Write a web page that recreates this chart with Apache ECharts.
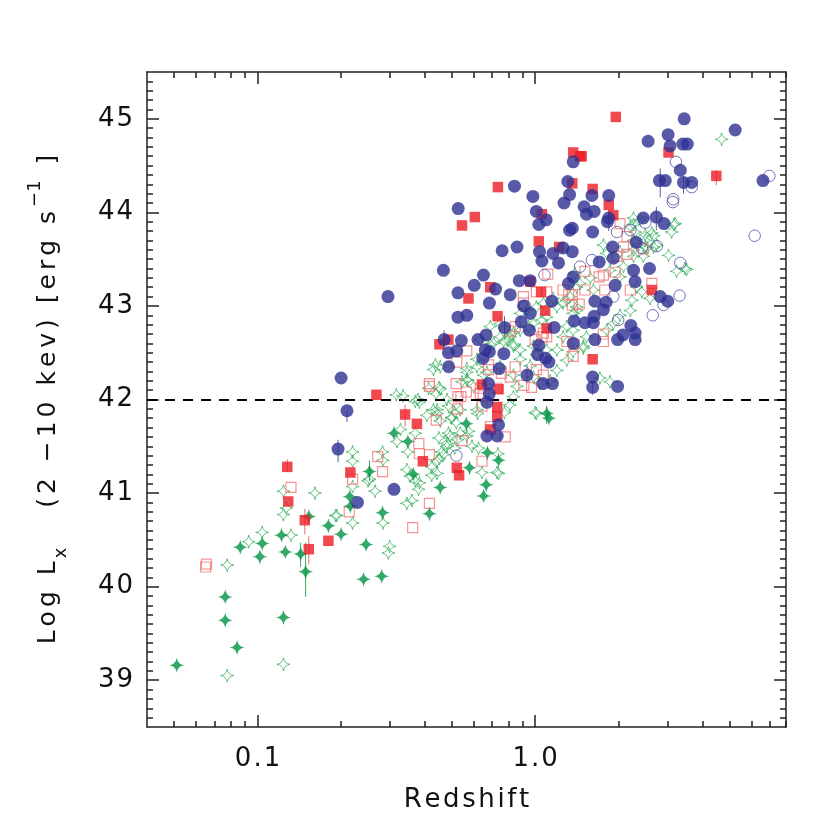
<!DOCTYPE html>
<html>
<head>
<meta charset="utf-8">
<script src="https://cdn.jsdelivr.net/npm/echarts@6/dist/echarts.min.js"></script>
<style>
  html, body { margin: 0; background: #fff; }
  #chart { width: 830px; height: 830px; }
</style>
</head>
<body>
<div id="chart"></div>
<script>
// axis ranges and ticks
const xRange = [0.04, 8];
const yRange = [38.5, 45.5];
const xMajorTicks = [0.1, 1];
const xMinorTicks = [0.05, 0.06, 0.07, 0.08, 0.09, 0.2, 0.3, 0.4, 0.5, 0.6, 0.7, 0.8, 0.9, 2, 3, 4, 5, 6, 7, 8];
const yMajorTicks = [39, 40, 41, 42, 43, 44, 45];
const lxCut = 42;

// [redshift, log Lx]
const navyFilled = [
  [5.25,44.88],[3.44,45.0],[2.55,44.76],[3.01,44.83],[3.06,44.71],[3.40,44.73],[3.53,44.73],[3.33,44.45],
  [2.80,44.34],[2.94,44.34],[3.42,44.32],[3.66,44.32],[6.61,44.34],[1.60,44.18],[1.84,44.18],[1.50,44.06],
  [1.53,43.98],[1.63,44.01],[1.84,43.94],[1.82,43.90],[1.61,43.79],[2.45,43.94],[2.73,43.95],[2.91,43.88],
  [1.90,43.63],[2.31,43.68],[1.37,44.54],[0.842,44.28],[1.31,44.33],[0.981,44.17],[1.33,44.19],[1.27,44.10],
  [0.528,44.04],[1.01,44.01],[1.095,43.92],[1.03,43.87],[1.33,43.81],[1.36,43.83],[0.86,43.63],[0.76,43.59],
  [1.036,43.58],[1.26,43.62],[1.36,43.58],[0.467,43.38],[0.651,43.33],[0.603,43.22],[0.527,43.14],[0.72,43.18],
  [0.813,43.12],[0.684,43.03],[0.527,42.88],[0.567,42.90],[0.775,42.77],[0.47,42.64],[0.542,42.63],[0.487,42.50],
  [0.522,42.52],[0.488,42.35],[0.622,42.64],[0.666,42.69],[0.661,42.53],[0.684,42.51],[0.648,42.44],[0.742,42.33],
  [0.771,42.49],[0.679,42.17],[0.683,42.06],[0.934,42.26],[1.03,42.58],[1.02,42.48],[1.09,42.44],[1.12,42.40],
  [1.066,42.17],[1.154,42.17],[0.908,43.0],[0.959,42.92],[0.89,42.83],[0.953,42.74],[1.148,43.05],[1.17,42.77],
  [1.057,43.48],[1.158,43.56],[1.213,43.46],[1.37,43.31],[0.876,43.27],[0.959,43.27],[1.317,43.24],[1.91,43.51],
  [1.70,43.47],[1.94,43.22],[2.26,43.38],[2.29,43.26],[2.58,43.40],[1.64,43.05],[1.80,43.04],[1.76,42.96],
  [1.63,42.89],[1.62,42.82],[1.38,42.84],[1.51,42.82],[1.64,42.64],[1.98,42.64],[2.07,42.69],[2.21,42.79],
  [2.29,42.71],[2.29,42.64],[2.82,43.10],[3.0,43.05],[1.61,42.24],[1.61,42.13],[1.98,42.14],[1.37,42.60],
  [0.2,42.23],[0.21,41.88],[0.195,41.47],[0.31,41.04],[0.229,40.90],[0.295,43.10],[0.67,41.97],[0.738,41.73],
  [0.67,41.61],[0.73,41.61]
];
const navyOpen = [
  [3.21,44.54],[3.14,44.14],[3.13,44.11],[6.97,44.39],[3.66,44.27],[6.17,43.75],[1.97,43.79],[3.33,43.46],
  [3.31,43.11],[2.65,42.90],[2.90,43.01],[2.2,43.81],[2.49,43.89],[2.74,43.64],[1.45,43.42],[1.60,43.49],
  [1.99,42.85],[1.91,43.10],[0.92,43.0],[1.08,43.33],[2.42,43.62],[0.52,41.40]
];
const redFilled = [
  [1.95,45.02],[1.47,44.60],[3.02,44.64],[4.49,44.39],[1.61,44.25],[1.84,44.08],[1.91,43.97],[1.37,44.64],
  [1.45,44.60],[0.734,44.27],[1.36,44.31],[0.606,43.95],[0.545,43.86],[1.057,43.98],[1.03,43.69],[1.22,43.63],
  [0.689,43.20],[0.575,43.08],[0.732,42.89],[0.452,42.59],[0.487,42.64],[0.643,42.16],[0.738,42.11],[1.086,42.95],
  [1.10,42.76],[0.959,43.26],[1.05,43.15],[2.63,43.17],[1.61,42.43],[0.73,41.92],[0.73,41.82],[0.69,41.68],
  [0.522,41.27],[0.532,41.19],[0.268,42.05],[0.34,41.84],[0.375,41.74],[0.394,41.34],[0.216,41.22],[0.128,41.28],
  [0.129,40.91],[0.148,40.71],[0.153,40.40],[0.18,40.49]
];
const redOpen = [
  [0.065,40.21],[0.0655,40.24],[0.132,41.06],[0.271,41.39],[0.282,41.23],[0.381,41.53],[0.383,41.42],[0.416,41.41],
  [0.214,40.80],[0.362,40.63],[0.416,40.89],[0.44,41.78],[0.416,42.14],[0.416,42.17],[0.22,41.15],[0.519,42.17],
  [0.527,42.03],[0.525,41.90],[0.565,42.08],[0.65,42.04],[0.643,41.93],[0.689,41.71],[0.78,41.60],[0.545,41.56],
  [0.643,41.34],[0.91,42.15],[0.97,42.13],[0.567,42.52],[0.522,42.40],[0.679,42.37],[0.679,42.32],[0.847,42.35],
  [0.813,42.24],[0.907,43.10],[0.907,43.03],[1.01,43.15],[1.10,43.15],[1.11,43.34],[1.26,43.17],[1.32,43.12],
  [1.37,42.46],[1.30,42.62],[1.01,42.32],[1.07,42.26],[1.0,42.64],[1.057,42.67],[1.07,42.71],[1.10,42.67],
  [0.813,42.73],[0.847,42.78],[0.755,42.28],[0.728,42.12],[0.634,42.12],[0.634,42.06],[0.54,42.03],[1.51,43.37],
  [1.70,43.31],[1.51,43.17],[1.78,43.17],[2.2,43.17],[1.36,43.12],[1.44,43.02],[1.36,43.01],[2.63,43.24],
  [1.76,42.70],[1.76,42.62],[1.38,42.59],[2.14,43.55],[2.08,43.63],[2.45,43.61],[1.94,43.36],[2.02,43.88],
  [2.14,43.74],[1.97,43.53],[1.76,43.33]
];
const greenFilled = [
  [0.0512,39.16],[0.0765,39.89],[0.0765,39.64],[0.0844,39.35],[0.124,39.67],[0.0867,40.42],[0.102,40.32],[0.104,40.46],
  [0.122,40.55],[0.126,40.37],[0.143,40.35],[0.149,40.16],[0.153,40.75],[0.18,40.65],[0.2,40.56],[0.246,40.45],
  [0.241,40.08],[0.28,40.11],[0.253,41.23],[0.215,40.96],[0.216,40.86],[0.282,40.79],[0.31,41.64],[0.348,41.55],
  [0.364,41.20],[0.416,40.78],[0.455,41.06],[1.10,41.85],[1.12,41.80],[0.565,41.74],[0.673,41.43],[0.738,41.35],
  [0.58,41.27],[0.666,41.09],[0.652,40.97]
];
const greenOpen = [
  [0.0778,39.05],[0.124,39.17],[0.0778,40.23],[0.093,40.48],[0.104,40.58],[0.124,41.02],[0.124,40.77],[0.127,40.84],
  [0.132,40.55],[0.161,41.0],[0.193,40.76],[0.22,41.44],[0.22,41.34],[0.22,41.07],[0.22,40.68],[0.265,41.02],
  [0.253,41.15],[0.282,41.44],[0.283,41.35],[0.283,40.68],[0.299,40.43],[0.296,40.36],[0.316,42.05],[0.327,41.68],
  [0.318,41.55],[0.348,41.44],[0.345,40.89],[0.36,40.92],[0.383,41.97],[0.383,41.11],[0.424,41.19],[0.443,41.34],
  [0.45,41.59],[0.443,41.85],[0.43,41.89],[0.378,42.00],[0.45,42.13],[0.44,42.06],[0.407,41.83],[0.487,41.93],
  [0.513,41.86],[0.52,41.75],[0.487,41.64],[0.525,41.57],[0.37,41.64],[0.46,41.44],[0.452,41.37],[0.345,41.25],
  [0.355,41.18],[0.25,41.13],[0.191,40.76],[0.6,42.14],[0.57,42.21],[0.5,41.81],[0.62,41.85],[0.81,41.94],
  [0.775,41.86],[1.0,41.86],[0.494,41.61],[0.481,41.53],[0.575,41.66],[0.592,41.50],[0.468,41.41],[0.734,41.42],
  [0.738,41.21],[0.625,41.48],[0.689,42.78],[0.748,42.81],[0.813,42.71],[0.634,42.64],[0.689,42.59],[0.769,42.62],
  [0.835,42.59],[0.883,42.53],[0.986,42.57],[0.567,42.29],[0.617,42.35],[0.67,42.29],[0.748,42.35],[0.835,42.26],
  [0.86,42.14],[0.835,42.03],[0.43,42.32],[0.455,42.11],[0.443,41.89],[0.481,42.0],[0.455,41.77],[0.5,41.80],
  [0.537,41.89],[0.567,41.61],[0.617,41.89],[0.986,42.24],[1.042,42.17],[1.132,42.20],[1.197,42.31],[1.30,42.42],
  [1.37,42.51],[1.49,42.55],[1.01,41.85],[0.728,41.22],[0.643,41.22],[0.537,41.64],[0.513,41.48],[0.481,41.50],
  [0.424,41.28],[0.443,41.21],[0.37,41.13],[0.38,41.04],[0.37,41.98],[0.413,42.12],[0.455,42.35],[0.437,42.37],
  [0.567,42.33],[0.545,42.19],[0.334,42.04],[0.708,42.60],[0.748,42.67],[0.79,42.64],[0.835,42.71],[0.883,42.74],
  [0.946,42.78],[0.986,42.81],[1.057,42.85],[1.10,42.88],[1.197,42.99],[1.26,43.03],[1.337,43.10],[1.41,43.20],
  [1.39,43.35],[0.883,42.92],[0.934,42.96],[1.01,42.99],[1.07,43.03],[1.16,43.08],[1.30,43.06],[0.813,42.67],
  [0.835,42.57],[0.883,42.43],[0.959,42.36],[1.01,42.48],[1.10,42.53],[1.197,42.53],[1.26,42.67],[1.30,42.78],
  [1.37,42.92],[1.41,42.99],[0.617,42.43],[0.567,42.21],[0.652,42.26],[1.76,43.65],[2.02,43.58],[2.26,43.60],
  [2.49,43.63],[2.74,43.65],[3.02,43.54],[3.23,43.37],[3.51,43.39],[1.58,43.30],[1.62,43.17],[1.45,43.24],
  [2.02,43.31],[1.86,43.38],[2.08,43.42],[2.32,43.20],[2.42,43.15],[2.59,43.08],[2.23,43.06],[2.2,42.95],
  [2.02,42.90],[1.91,42.81],[1.81,42.74],[1.53,42.67],[1.49,42.57],[1.37,42.74],[1.41,42.95],[1.71,42.23],
  [1.86,42.19],[3.16,43.87],[3.1,43.79],[3.46,43.40],[2.67,43.75],[2.67,43.63],[2.49,43.70],[2.26,43.70],
  [2.53,43.62],[2.26,43.53],[2.45,43.53],[1.81,43.56],[2.26,43.87],[2.39,43.92],[2.26,43.94],[2.2,43.85],
  [2.29,43.79],[2.49,43.76],[2.63,43.78],[3.19,43.88],[4.69,44.78]
];

// error bars: [redshift, upper, lower]
const navyErr = [[0.195,41.57,41.33],[0.21,41.88,41.76],[2.82,44.47,44.16],[2.73,44.06,43.81],[3.42,44.38,44.20],
  [1.84,43.98,43.80],[0.47,42.74,42.55],[0.775,42.89,42.64],[0.934,42.37,42.17],[1.61,42.19,42.05]];
const redErr = [[0.34,41.94,41.71],[0.148,40.83,40.56],[0.153,40.54,40.24],[4.49,44.45,44.29],[0.128,41.36,41.24]];
const greenErr = [[0.149,40.47,39.89],[0.143,40.47,40.21],[0.253,41.35,41.13],[1.10,41.93,41.74]];

const NAVY = '#2e3192', RED = '#ed1c24', GREEN = '#009444';
const STAR = 'path://M0,-10 Q1.3,-1.3 10,0 Q1.3,1.3 0,10 Q-1.3,1.3 -10,0 Q-1.3,-1.3 0,-10 Z';
const FONT = 'DejaVu Sans';

const yMinorTicks = [];
for (let i = 386; i <= 454; i++) if (i % 10 !== 0) yMinorTicks.push(i / 10);

// letter-spaced rich text
const spread = (s, st) => s.split('').map(ch => '{' + st + '|' + ch + '}').join('');

const axisColor = '#222';
function xAxis(pos, ticks, len, main) {
  return {
    type: 'log', logBase: 10, min: xRange[0], max: xRange[1], position: pos,
    axisLine: { show: main, onZero: false, lineStyle: { color: axisColor, width: 1.5 } },
    axisTick: { inside: true, length: len, customValues: ticks, lineStyle: { color: axisColor, width: 1.5 } },
    axisLabel: (main && pos === 'bottom') ? {
      customValues: xMajorTicks, margin: 19,
      formatter: v => spread(v === 1 ? '1.0' : String(v), 't'),
      rich: { t: { fontFamily: FONT, fontSize: 26, color: '#111', padding: [0, 1, 0, 1] } }
    } : { show: false },
    splitLine: { show: false },
    name: (main && pos === 'bottom') ? spread('Redshift', 'r') : '',
    nameLocation: 'middle', nameGap: 60,
    nameTextStyle: { rich: { r: { fontFamily: FONT, fontSize: 26, color: '#111', padding: [0, 1.3, 0, 1.3] } } }
  };
}
function yAxis(pos, ticks, len, main) {
  const nm = spread('Log L', 'n') + '{sub|x}' + spread('   (2 −10 kev) [erg s', 'n') + '{sup|−1}' + spread(' ]', 'n');
  return {
    type: 'value', min: yRange[0], max: yRange[1], position: pos,
    axisLine: { show: main, onZero: false, lineStyle: { color: axisColor, width: 1.5 } },
    axisTick: { inside: true, length: len, customValues: ticks, lineStyle: { color: axisColor, width: 1.5 } },
    axisLabel: (main && pos === 'left') ? {
      customValues: yMajorTicks, margin: 13,
      formatter: v => spread(String(v), 't'),
      rich: { t: { fontFamily: FONT, fontSize: 26, color: '#111', padding: [0, 1, 0, 1] } }
    } : { show: false },
    splitLine: { show: false },
    name: (main && pos === 'left') ? nm : '',
    nameLocation: 'middle', nameGap: 77,
    nameTextStyle: {
      rich: {
        n: { fontFamily: FONT, fontSize: 25, color: '#111', lineHeight: 44, verticalAlign: 'middle', padding: [0, 2, 0, 2] },
        sub: { fontFamily: FONT, fontSize: 18, color: '#111', lineHeight: 44, verticalAlign: 'bottom', padding: [0, 2, 0, 1] },
        sup: { fontFamily: FONT, fontSize: 18, color: '#111', lineHeight: 44, verticalAlign: 'top', padding: [0, 2, 0, 2] }
      }
    }
  };
}

function errBars(data, color) {
  return {
    type: 'custom', xAxisIndex: 0, yAxisIndex: 0, data: data, z: 1, silent: true,
    encode: { x: 0, y: [1, 2] },
    renderItem: (params, api) => {
      const a = api.coord([api.value(0), api.value(1)]);
      const b = api.coord([api.value(0), api.value(2)]);
      return { type: 'line', shape: { x1: a[0], y1: a[1], x2: b[0], y2: b[1] }, style: { stroke: color, lineWidth: 1 } };
    }
  };
}
function pts(data, symbol, size, style, z) {
  return { type: 'scatter', data: data, symbol: symbol, symbolSize: size, itemStyle: style, z: z, silent: true };
}

const chart = echarts.init(document.getElementById('chart'), null, { renderer: 'canvas' });
chart.setOption({
  animation: false,
  backgroundColor: '#fff',
  grid: { left: 147, right: 44, top: 72, bottom: 103 },
  xAxis: [
    xAxis('bottom', xMajorTicks, 12, true),
    xAxis('bottom', xMinorTicks, 6, false),
    xAxis('top', xMajorTicks, 12, true),
    xAxis('top', xMinorTicks, 6, false)
  ],
  yAxis: [
    yAxis('left', yMajorTicks, 12, true),
    yAxis('left', yMinorTicks, 6, false),
    yAxis('right', yMajorTicks, 12, true),
    yAxis('right', yMinorTicks, 6, false)
  ],
  series: [
    errBars(greenErr, '#3aaa5c'),
    errBars(redErr, '#f26b6b'),
    errBars(navyErr, '#5a5ea8'),
    pts(greenOpen, STAR, 13, { color: 'rgba(0,0,0,0)', borderColor: '#3db163', borderWidth: 1 }, 2),
    pts(redOpen, 'rect', 10, { color: 'rgba(0,0,0,0)', borderColor: '#f37878', borderWidth: 1.2 }, 3),
    pts(navyOpen, 'circle', 11.5, { color: 'rgba(0,0,0,0)', borderColor: '#4e52a6', borderWidth: 1 }, 4),
    pts(greenFilled, STAR, 15, { color: GREEN }, 5),
    pts(redFilled, 'rect', 10.5, { color: RED }, 6),
    Object.assign(pts(navyFilled, 'circle', 13, { color: NAVY }, 7), {
      markLine: {
        silent: true, symbol: 'none', label: { show: false },
        lineStyle: { color: '#000', type: [10, 8], width: 2 },
        data: [{ yAxis: lxCut }]
      }
    })
  ]
});
</script>
</body>
</html>
